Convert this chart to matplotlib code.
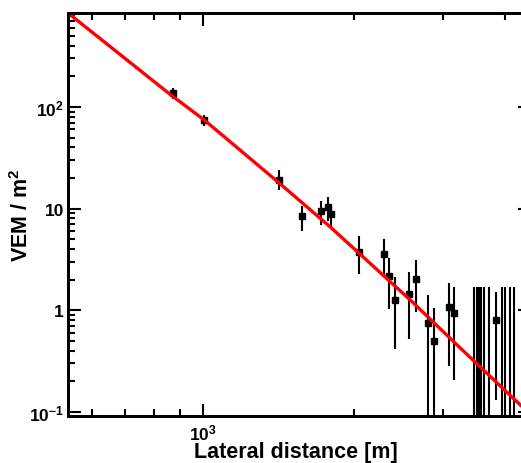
import numpy as np
import matplotlib

matplotlib.use('Agg')
import matplotlib.pyplot as plt
from matplotlib.ticker import FixedLocator, FixedFormatter, NullFormatter

plt.rcParams['font.family'] = ['Liberation Sans', 'DejaVu Sans']
plt.rcParams['font.weight'] = 'bold'
plt.rcParams['mathtext.fontset'] = 'custom'
plt.rcParams['mathtext.rm'] = 'Liberation Sans:bold'
plt.rcParams['mathtext.bf'] = 'Liberation Sans:bold'
plt.rcParams['mathtext.it'] = 'Liberation Sans:bold'
plt.rcParams['mathtext.default'] = 'rm'

# 台站信号 (距离 m, VEM/m^2, 误差下限, 误差上限)
dist = [870, 1006, 1419, 1573, 1718, 1774, 1799, 2047, 2291, 2350,
        2411, 2577, 2653, 2813, 2882, 3091, 3162, 3835]
signal = [136, 74.5, 19.3, 8.41, 9.49, 10.4, 8.87, 3.78, 3.59, 2.16,
          1.27, 1.43, 2.04, 0.746, 0.503, 1.07, 0.943, 0.81]
sig_lo = [120, 65.5, 15.4, 6.08, 6.92, 7.57, 6.6, 2.28, 2.15, 1.03,
          0.411, 0.515, 0.958, 0.05, 0.05, 0.282, 0.204, 0.131]
sig_hi = [153, 83.4, 23.7, 10.7, 11.9, 13.0, 11.1, 5.35, 5.03, 3.25,
          2.14, 2.37, 3.15, 1.42, 1.05, 1.86, 1.69, 1.51]

# 无信号台站 (只有上限)
zero_dist = [3466, 3509, 3546, 3587, 3629, 3713, 3941, 4005, 4080, 4165]
zero_hi = [1.69] * len(zero_dist)

# 拟合的横向分布函数
ldf_r = [538, 860, 1005, 1417, 1791, 2585, 3251, 4360]
ldf_s = [840, 132.7, 74.5, 17.9, 6.61, 1.266, 0.427, 0.108]

fig = plt.figure(figsize=(5.21, 4.64), dpi=100)
# 右边框落在图外
ax = fig.add_axes([68 / 521, 47 / 464, 456 / 521, 403 / 464])

ax.set_xscale('log')
ax.set_yscale('log')
ax.set_xlim(538, 4360)
ax.set_ylim(0.091, 840)

ax.vlines(zero_dist, 0.05, zero_hi, colors='black', lw=1.5, zorder=3)

sig = np.array(signal)
yerr = [sig - np.array(sig_lo), np.array(sig_hi) - sig]
ax.errorbar(dist, signal, yerr=yerr, fmt='s', color='black', ms=4.5,
            elinewidth=1.5, capsize=0, zorder=4)

ax.plot(ldf_r, ldf_s, color='red', lw=2.4, zorder=5)

# 坐标轴刻度
ax.xaxis.set_major_locator(FixedLocator([1000]))
ax.xaxis.set_major_formatter(FixedFormatter([r'$10^{3}$']))
ax.xaxis.set_minor_locator(FixedLocator([600, 700, 800, 900, 2000, 3000, 4000]))
ax.xaxis.set_minor_formatter(NullFormatter())

ax.yaxis.set_major_locator(FixedLocator([0.1, 1, 10, 100]))
ax.yaxis.set_major_formatter(FixedFormatter([r'$10^{-1}$', '1', '10', r'$10^{2}$']))
ax.yaxis.set_minor_locator(FixedLocator(
    [v * 10.0 ** e for e in (-1, 0, 1, 2) for v in range(2, 10)]))
ax.yaxis.set_minor_formatter(NullFormatter())

ax.tick_params(which='both', direction='in', top=True, right=False, width=1.5,
               labelsize=12.5)
ax.tick_params(which='major', length=9)
ax.tick_params(which='minor', length=5)
ax.tick_params(axis='x', which='major', pad=5)
ax.tick_params(axis='y', which='major', pad=3)

# 右侧只有短的主刻度
ax2 = ax.twinx()
ax2.set_yscale('log')
ax2.set_ylim(ax.get_ylim())
ax2.yaxis.set_major_locator(FixedLocator([0.1, 1, 10, 100]))
ax2.yaxis.set_minor_locator(FixedLocator([]))
ax2.tick_params(axis='y', direction='in', length=4.5, width=1.5, labelright=False)

for a in (ax, ax2):
    for s in a.spines.values():
        s.set_linewidth(2)

ax.set_xlabel('Lateral distance [m]', fontsize=15.5, fontweight='bold', labelpad=-1)
ax.set_ylabel(r'VEM / m$^{2}$', fontsize=15.5, fontweight='bold', labelpad=-3)

fig.savefig('out.png', dpi=100)
